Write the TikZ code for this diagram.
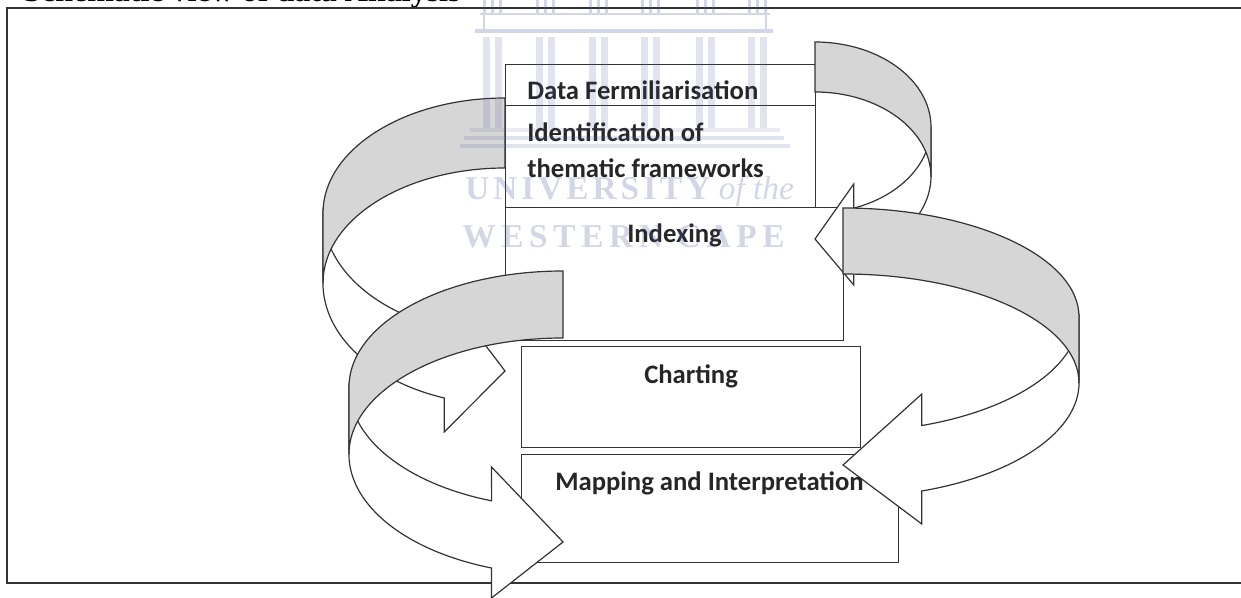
\documentclass[tikz,border=0pt]{standalone}
\usepackage{fontspec}
\setmainfont{Carlito}
\newfontfamily\crestfonta[LetterSpace=12]{Liberation Serif}
\newfontfamily\crestfontb[LetterSpace=17]{Liberation Serif}
\newfontfamily\crestital{Liberation Serif}
\newfontfamily\titlefont{Liberation Serif}
\usetikzlibrary{positioning}
\definecolor{linegray}{HTML}{333333}
\definecolor{bandgray}{HTML}{D6D6D6}
\definecolor{crest}{HTML}{4F5B9B}
\tikzset{
  framebox/.style={draw=linegray, line width=1.4pt},
  stagebox/.style={draw=linegray, line width=1pt, minimum height=#1, inner sep=0pt, anchor=north west},
  ribbon/.style={draw=linegray, line width=0.9pt, line join=miter},
  stagetext/.style={anchor=base west, inner sep=0pt, font=\fontsize{20}{20}\selectfont\bfseries, text=black!85},
  cresttext/.style={anchor=base west, inner sep=0pt, text=crest, font=\fontsize{25}{25}\selectfont\bfseries},
}
\begin{document}
\begin{tikzpicture}[x=0.75pt, y=-0.75pt]
    \useasboundingbox (0,0) rectangle (1241,598);
    % Heading, cut by the page edge
    \node[anchor=base west, inner sep=0pt, font=\fontsize{24}{24}\selectfont\titlefont\bfseries] (heading) at (23,2) {Schematic view of data Analysis};
    % Outer frame
    \coordinate (frameA) at (1245,8);
    \coordinate (frameB) at (7,8);
    \coordinate (frameC) at (7,583);
    \coordinate (frameD) at (1245,583);
    \draw[framebox] (frameA) -- (frameB) -- (frameC) -- (frameD);
    % Stages
    \node[stagebox=41*0.75pt, minimum width=232.5pt] (fermil) at (505,64) {};
    \node[stagebox=102*0.75pt, minimum width=232.5pt] (themes) at (505,105) {};
    \node[stagebox=133*0.75pt, minimum width=253.5pt] (index) at (505,207) {};
    \node[stagebox=101*0.75pt, minimum width=254.25pt] (chart) at (521,346) {};
    \node[stagebox=108*0.75pt, minimum width=282.75pt] (mapping) at (521,454) {};
    % Curved arrows: side/centre x/centre y/x radius/upper radius/lower radius/drop/head top/notch/tip/back/head bottom
    \foreach \s/\cx/\cy/\rx/\ry/\rl/\h/\ht/\nt/\tp/\bk/\hb in {
        1/815/127/116/85/86/50/57/82/112/130/158,
        -1/505/213/182/115/122/70/78/117/158/185/219,
        1/843/317/236/109/115/66/77/110/148/174/207,
        -1/563/387/214/116/120.6/67/80/114/155/181/211} {
      \begin{scope}[shift={(\cx,\cy)}, xscale=\s]
        \draw[ribbon, fill=white] (\rx*0.958,\rl*0.287)
          arc[start angle=16.6, end angle=70.5, x radius=\rx, y radius=\rl]
          -- (\rx*0.334,\ht) -- (0,\tp) -- (\rx*0.334,\hb) -- (\rx*0.334,\bk)
          arc[start angle=70.5, end angle=0, x radius=\rx, y radius=\rl]
          -- (\rx,0) -- cycle;
        \draw[ribbon, fill=bandgray] (0,-\ry)
          arc[start angle=-90, end angle=0, x radius=\rx, y radius=\ry]
          -- (\rx,\h)
          arc[start angle=0, end angle=-90, x radius=\rx, y radius=\ry]
          -- cycle;
      \end{scope}
    }
    % Stage names
    \node[stagetext] (fermilname) at (527,100) {Data Fermiliarisation};
    \node[stagetext] (themesa) at (527,142) {Identification of};
    \node[stagetext] (themesb) at (527,178) {thematic frameworks};
    \node[stagetext] (indexname) at (627,243) {Indexing};
    \node[stagetext] (chartname) at (644,383) {Charting};
    \node[stagetext] (mappingname) at (555,490) {Mapping and Interpretation};
    % Watermark
    \begin{scope}[fill opacity=0.25, text opacity=0.25]
      \foreach \c in {492,545,598,650,705,757} {
        \fill[crest, fill opacity=0.17] (\c-9,37) rectangle (\c-2,128);
        \fill[crest, fill opacity=0.17] (\c+3,37) rectangle (\c+10,128);
        \foreach \d in {-9,-1,7} {
          \fill[crest] (\c+\d,0) rectangle (\c+\d+3,13);
        }
      }
      \fill[crest] (475,29) rectangle (773,33);
      \fill[crest] (480,13) rectangle (770,15);
      \fill[crest] (483,15) rectangle (485,29);
      \fill[crest] (765,15) rectangle (767,29);
      \fill[crest, fill opacity=0.12] (470,128) rectangle (780,132);
      \fill[crest, fill opacity=0.17] (464,136) rectangle (784,140);
      \fill[crest, fill opacity=0.17] (460,144) rectangle (790,148);
      \node[cresttext] (univ) at (465,200) {\crestfonta UNIVERSITY\hspace{-3pt} \crestital\itshape\mdseries of the};
      \node[cresttext] (western) at (462,248) {\crestfontb WESTERN CAPE};
    \end{scope}
\end{tikzpicture}
\end{document}
